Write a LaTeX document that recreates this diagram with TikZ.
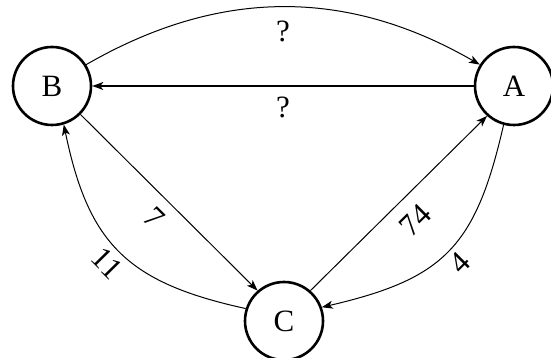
\documentclass[tikz,border=0pt]{standalone}
\usepackage{fontspec}
\setmainfont{Liberation Serif}
\usetikzlibrary{arrows.meta}

\begin{document}
\begin{tikzpicture}[x=0.5pt, y=0.5pt,
        state/.style={circle, draw, line width=1.3pt, minimum size=39pt, inner sep=0pt, font=\fontsize{15.5}{18}\selectfont},
        edge/.style={-{Stealth[length=5.5pt, width=4pt, inset=1.5pt]}, line width=0.5pt},
        weight/.style={sloped, inner sep=1pt, font=\fontsize{15.5}{18}\selectfont}]

        % Fix the page to the size of the reference
        \useasboundingbox (0,0) rectangle (551,358);

        % Define and draw the three states
        \node[state] (B) at (52, 272) {B};
        \node[state] (A) at (514, 272) {A};
        \node[state] (C) at (284, 37) {C};

        % Connect them with the weighted edges
        \draw[edge] (B.32) to[bend left=30] node[weight, below=5.5pt] {?} (A.148);
        \draw[edge, line width=0.7pt] (A) -- node[weight, below=4.3pt] {?} (B);
        \draw[edge] (B.-45) -- node[weight, below=4.5pt] {7} (C.131);
        \draw[edge] (C.49) -- node[weight, below=5.5pt] {74} (A.-132);
        \draw[edge] (A.-105) to[bend left=32, looseness=1.25] node[weight, below=2pt] {4} (C.20);
        \draw[edge] (C.162) to[bend left=33, looseness=1.2] node[weight, pos=0.5, below=2pt] {11} (B.-73);
\end{tikzpicture}
\end{document}
